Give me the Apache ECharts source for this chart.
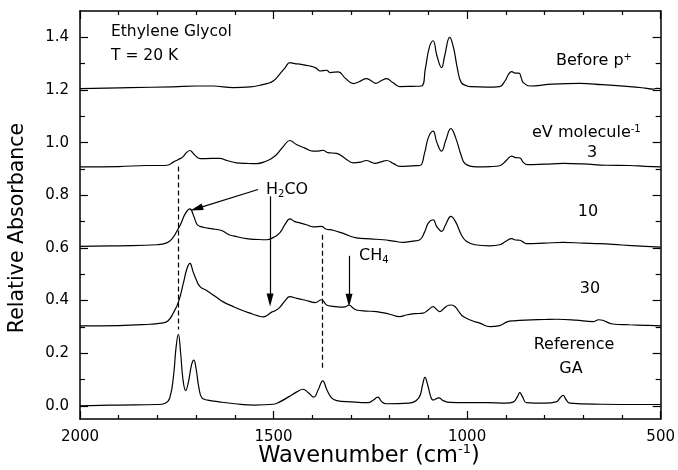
<!DOCTYPE html>
<html>
<head>
<meta charset="utf-8">
<script src="https://cdn.jsdelivr.net/npm/echarts@6/dist/echarts.min.js"></script>
<style>
  html, body { margin: 0; padding: 0; background: #fff; }
  #chart { width: 678px; height: 470px; }
</style>
</head>
<body>
<div id="chart"></div>
<script>
// spectra, [wavenumber cm-1, relative absorbance] (already offset as plotted)
const beforeP = [[2000,1.205],[1871,1.209],[1760,1.212],[1700,1.215],[1656,1.215],[1604,1.209],[1560,1.212],[1535,1.218],[1515,1.225],[1501,1.234],[1484,1.26],[1470,1.285],[1458,1.304],[1445,1.3],[1432,1.298],[1406,1.291],[1390,1.283],[1380,1.272],[1363,1.275],[1354,1.266],[1333,1.269],[1315,1.245],[1294,1.224],[1278,1.232],[1260,1.243],[1248,1.235],[1236,1.225],[1222,1.235],[1208,1.243],[1192,1.228],[1174,1.213],[1140,1.214],[1118,1.215],[1108,1.28],[1098,1.36],[1088,1.387],[1078,1.33],[1066,1.285],[1058,1.33],[1045,1.4],[1035,1.36],[1025,1.28],[1015,1.228],[1000,1.215],[993,1.213],[950,1.211],[916,1.213],[902,1.235],[892,1.262],[885,1.27],[876,1.264],[866,1.264],[860,1.245],[855,1.228],[838,1.215],[780,1.222],[709,1.225],[650,1.22],[580,1.213],[540,1.207],[520,1.203],[510,1.206],[500,1.205]];

const dose3 = [[2000,0.908],[1900,0.909],[1828,0.913],[1790,0.913],[1772,0.915],[1760,0.925],[1746,0.936],[1735,0.945],[1725,0.962],[1716,0.97],[1705,0.955],[1690,0.939],[1660,0.94],[1639,0.94],[1620,0.932],[1596,0.923],[1570,0.921],[1544,0.92],[1518,0.93],[1505,0.94],[1492,0.955],[1475,0.985],[1458,1.008],[1441,0.993],[1420,0.98],[1398,0.968],[1385,0.968],[1372,0.971],[1360,0.962],[1337,0.959],[1315,0.94],[1294,0.923],[1275,0.926],[1260,0.932],[1248,0.926],[1238,0.921],[1222,0.927],[1208,0.932],[1190,0.92],[1174,0.91],[1140,0.912],[1122,0.913],[1110,0.96],[1100,1.02],[1088,1.044],[1078,1.0],[1066,0.968],[1055,1.01],[1042,1.053],[1030,1.02],[1015,0.95],[1005,0.92],[976,0.908],[941,0.909],[916,0.912],[900,0.93],[885,0.949],[875,0.943],[864,0.942],[855,0.925],[845,0.916],[800,0.918],[752,0.921],[700,0.919],[640,0.914],[580,0.913],[540,0.91],[500,0.908]];

const dose10 = [[2000,0.606],[1900,0.608],[1800,0.612],[1776,0.619],[1762,0.635],[1750,0.663],[1740,0.69],[1728,0.73],[1716,0.748],[1706,0.72],[1698,0.69],[1690,0.682],[1670,0.675],[1656,0.672],[1640,0.668],[1630,0.663],[1615,0.65],[1604,0.646],[1570,0.635],[1540,0.632],[1518,0.631],[1500,0.64],[1484,0.657],[1470,0.69],[1458,0.71],[1445,0.7],[1432,0.695],[1415,0.688],[1398,0.68],[1376,0.682],[1365,0.672],[1346,0.667],[1320,0.655],[1286,0.638],[1250,0.634],[1217,0.631],[1190,0.626],[1165,0.621],[1140,0.626],[1122,0.631],[1110,0.66],[1100,0.695],[1088,0.707],[1078,0.68],[1066,0.663],[1055,0.69],[1042,0.72],[1030,0.7],[1015,0.65],[1002,0.625],[980,0.612],[941,0.608],[916,0.612],[900,0.625],[885,0.635],[875,0.63],[864,0.629],[855,0.622],[847,0.616],[800,0.618],[752,0.621],[700,0.618],[657,0.616],[600,0.611],[550,0.607],[500,0.603]];

const dose30 = [[2000,0.304],[1900,0.305],[1820,0.31],[1790,0.314],[1773,0.322],[1759,0.353],[1746,0.393],[1733,0.466],[1724,0.52],[1716,0.541],[1708,0.51],[1700,0.48],[1690,0.453],[1673,0.438],[1650,0.415],[1630,0.395],[1604,0.377],[1580,0.362],[1561,0.352],[1540,0.342],[1527,0.338],[1515,0.345],[1505,0.356],[1495,0.362],[1484,0.374],[1470,0.4],[1458,0.415],[1440,0.408],[1424,0.403],[1410,0.398],[1393,0.392],[1376,0.403],[1363,0.383],[1345,0.378],[1329,0.375],[1315,0.376],[1305,0.383],[1295,0.372],[1286,0.364],[1260,0.36],[1234,0.358],[1200,0.348],[1174,0.339],[1157,0.345],[1135,0.35],[1114,0.352],[1100,0.365],[1088,0.377],[1078,0.365],[1071,0.358],[1060,0.37],[1048,0.382],[1040,0.383],[1030,0.375],[1020,0.355],[1010,0.339],[990,0.325],[967,0.314],[941,0.301],[916,0.305],[895,0.32],[880,0.323],[850,0.326],[800,0.328],[769,0.329],[720,0.326],[675,0.32],[660,0.327],[650,0.325],[624,0.311],[580,0.308],[540,0.306],[500,0.304]];

const referenceGA = [[2000,0.0],[1900,0.003],[1800,0.005],[1780,0.01],[1768,0.03],[1758,0.12],[1752,0.22],[1746,0.272],[1740,0.2],[1734,0.1],[1727,0.058],[1720,0.09],[1712,0.155],[1706,0.174],[1700,0.14],[1693,0.07],[1685,0.03],[1670,0.022],[1640,0.015],[1600,0.008],[1550,0.003],[1500,0.006],[1484,0.015],[1460,0.035],[1440,0.053],[1424,0.063],[1410,0.05],[1396,0.033],[1385,0.06],[1373,0.095],[1362,0.06],[1350,0.03],[1337,0.02],[1300,0.015],[1256,0.012],[1242,0.022],[1231,0.033],[1220,0.015],[1210,0.008],[1150,0.01],[1125,0.03],[1115,0.08],[1109,0.108],[1102,0.08],[1094,0.035],[1088,0.022],[1073,0.03],[1062,0.02],[1045,0.013],[1000,0.012],[950,0.012],[900,0.01],[880,0.015],[870,0.035],[864,0.05],[857,0.035],[847,0.012],[800,0.01],[770,0.015],[760,0.03],[752,0.04],[745,0.025],[735,0.01],[650,0.006],[550,0.005],[500,0.005]];

// axis ticks
const yMajor = [0, 0.2, 0.4, 0.6, 0.8, 1.0, 1.2, 1.4];
const yMinor = [0.1, 0.3, 0.5, 0.7, 0.9, 1.1, 1.3];

const FONT = 'DejaVu Sans';
const INK = '#000';

var chart = echarts.init(document.getElementById('chart'), null, { renderer: 'canvas' });

function spectrum(data, extra) {
  return Object.assign({
    type: 'line',
    data: data,
    showSymbol: false,
    symbol: 'none',
    smooth: 0.45,
    lineStyle: { color: INK, width: 1.2 },
    silent: true,
    animation: false
  }, extra || {});
}

function xAx(pos, labels) {
  return {
    type: 'value', position: pos, min: 500, max: 2000, interval: 500, inverse: true,
    axisLine: { show: true, onZero: false, lineStyle: { color: INK, width: 1.5 } },
    axisTick: { show: true, inside: true, length: 8, lineStyle: { color: INK, width: 1.2 } },
    minorTick: { show: true, splitNumber: 5, length: 4, lineStyle: { color: INK, width: 1.2 } },
    axisLabel: { show: labels, margin: 11, color: INK, fontSize: 15, fontFamily: FONT,
      formatter: function (v) { return String(v); } },
    splitLine: { show: false }
  };
}

function yAx(pos, ticks, len, labels, line) {
  return {
    type: 'value', position: pos, min: -0.05, max: 1.5,
    axisLine: { show: line, onZero: false, lineStyle: { color: INK, width: 1.5 } },
    axisTick: { show: true, inside: true, length: len, customValues: ticks, lineStyle: { color: INK, width: 1.2 } },
    axisLabel: { show: labels, customValues: ticks, margin: 11, color: INK, fontSize: 15, fontFamily: FONT,
      formatter: function (v) { return v.toFixed(1); } },
    splitLine: { show: false }
  };
}

function txt(x, y, text, size, align, rich) {
  return {
    type: 'text', x: x, y: y, silent: true,
    style: {
      text: text, fill: INK, fontSize: size, fontFamily: FONT,
      textAlign: align || 'left', textVerticalAlign: 'middle', rich: rich
    }
  };
}

const supRich = {
  m: { fontSize: 16, fontFamily: FONT, fill: INK, lineHeight: 18 },
  s: { fontSize: 10, fontFamily: FONT, fill: INK, verticalAlign: 'top', lineHeight: 18 },
  b: { fontSize: 10, fontFamily: FONT, fill: INK, verticalAlign: 'bottom', lineHeight: 18 }
};

// annotation lines (arrows and dashed guides) in data coordinates
const dashedStyle = { color: INK, width: 1.2, type: [5, 3] };
const arrowStyle = { color: INK, width: 1.2, type: 'solid' };
const head = { symbol: 'triangle', symbolSize: [7, 13] };

var option = {
  backgroundColor: '#fff',
  animation: false,
  grid: { left: 80, right: 17, top: 11, bottom: 51, containLabel: false },
  xAxis: [xAx('bottom', true), xAx('top', false)],
  yAxis: [
    yAx('left', yMajor, 8, true, true),
    yAx('left', yMinor, 5, false, false),
    yAx('right', yMajor, 8, false, true),
    yAx('right', yMinor, 5, false, false)
  ],
  series: [
    spectrum(beforeP),
    spectrum(dose3),
    spectrum(dose10),
    spectrum(dose30),
    spectrum(referenceGA, {
      markLine: {
        silent: true,
        animation: false,
        label: { show: false },
        symbol: ['none', 'none'],
        data: [
          [{ coord: [1747, 0.909], lineStyle: dashedStyle }, { coord: [1747, 0.29] }],
          [{ coord: [1374, 0.65], lineStyle: dashedStyle }, { coord: [1374, 0.143] }],
          [{ coord: [1540, 0.822], lineStyle: arrowStyle, symbol: 'none' },
           Object.assign({ coord: [1699, 0.749] }, head)],
          [{ coord: [1509, 0.796], lineStyle: arrowStyle, symbol: 'none' },
           Object.assign({ coord: [1509, 0.402] }, head)],
          [{ coord: [1305, 0.57], lineStyle: arrowStyle, symbol: 'none' },
           Object.assign({ coord: [1305, 0.401] }, head)]
        ]
      }
    })
  ],
  graphic: [
    txt(111, 32, 'Ethylene Glycol', 15.5),
    txt(111, 56, 'T = 20 K', 15.5),
    txt(556, 61, '{m|Before p}{s|+}', 16, 'left', supRich),
    txt(532, 133, '{m|eV molecule}{s|-1}', 16, 'left', supRich),
    txt(592, 153, '3', 16, 'center'),
    txt(588, 212, '10', 16, 'center'),
    txt(590, 289, '30', 16, 'center'),
    txt(574, 345, 'Reference', 16, 'center'),
    txt(571, 369, 'GA', 16, 'center'),
    txt(266, 190, '{m|H}{b|2}{m|CO}', 15, 'left', supRich),
    txt(359, 256, '{m|CH}{b|4}', 15, 'left', supRich),
    {
      type: 'text', x: 17.5, y: 228, rotation: Math.PI / 2, silent: true,
      style: { text: 'Relative Absorbance', fill: INK, fontSize: 20.5, fontFamily: FONT,
        textAlign: 'center', textVerticalAlign: 'middle' }
    },
    {
      type: 'text', x: 369, y: 456, silent: true,
      style: {
        text: '{n|Wavenumber (cm}{s|-1}{n|)}', textAlign: 'center', textVerticalAlign: 'middle',
        rich: {
          n: { fontSize: 22.5, fontFamily: FONT, fill: INK, lineHeight: 25 },
          s: { fontSize: 13, fontFamily: FONT, fill: INK, verticalAlign: 'top', lineHeight: 25 }
        }
      }
    }
  ]
};

chart.setOption(option);
</script>
</body>
</html>
